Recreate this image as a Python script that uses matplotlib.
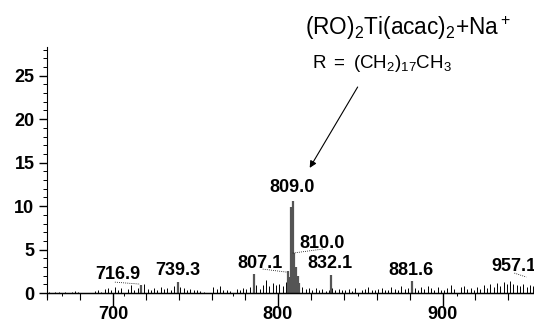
import numpy as np
import matplotlib.pyplot as plt
from matplotlib.ticker import MultipleLocator

plt.rcParams['font.family'] = ['Liberation Sans', 'DejaVu Sans']
plt.rcParams['mathtext.fontset'] = 'custom'
plt.rcParams['mathtext.rm'] = 'Liberation Sans'
plt.rcParams['mathtext.it'] = 'Liberation Sans'

# background noise of the spectrum, one stick every 2 m/z from 661
noise_start = 661
noise_step = 2
noise = [0.1, 0.0, 0.15, 0.1, -0.3, 0.1, 0.05, 0.1, 0.2, 0.1,
         0.0, 0.0, 0.0, 0.0, 0.2, 0.3, 0.1, 0.5, 0.6, 0.3,
         0.7, 0.4, 0.6, -0.3, 0.5, 0.9, 0.4, 0.6, 0.8, 1.0,
         0.5, 0.3, 0.6, 0.4, 0.7, 0.5, 0.6, 0.4, 0.8, 0.6,
         0.7, 0.6, 0.4, 0.5, 0.3, 0.4, 0.2, 0.1, 0.0, 0.0,
         0.7, 0.5, 0.8, 0.3, 0.4, 0.2, -0.3, 0.5, 0.4, 0.6,
         0.5, 0.7, 0.6, 0.9, 0.5, 0.9, 1.5, 0.8, 1.2, 0.9,
         1.0, 0.8, 1.3, 1.6, 1.0, 1.5, 0.9, 0.7, 0.5, 0.6,
         0.4, 0.6, 0.3, 0.5, 0.2, 0.4, 0.6, 0.3, 0.5, 0.4,
         0.3, 0.5, 0.2, 0.6, -0.3, 0.3, 0.5, 0.7, 0.3, 0.4,
         0.5, 0.6, 0.4, 0.3, 0.7, 0.5, 0.4, 0.8, 0.5, 0.6,
         0.5, 0.6, 0.4, 0.7, 0.5, 0.8, 0.6, 0.4, 0.7, 0.3,
         0.4, 0.6, 0.9, 0.5, -0.3, 0.7, 0.8, 0.5, 0.6, 0.4,
         0.7, 0.5, 0.9, 0.6, 1.0, 0.7, 1.2, 0.8, 1.3, 1.0,
         1.4, 1.1, 0.9, 0.8, 1.0, 0.7, 0.9, 0.8]

# main peaks
peak_mz = [716.9, 739.3, 785.5, 806.0, 807.1, 808.0, 809.0, 810.0, 811.0, 812.0, 813.0, 832.1, 881.6, 957.1]
peak_int = [0.9, 1.3, 2.2, 2.5, 1.8, 9.9, 10.6, 4.6, 3.0, 2.0, 1.2, 2.1, 1.4, 1.5]

# labelled peaks: text, label position (m/z, intensity)
labels = ['716.9', '739.3', '807.1', '809.0', '810.0', '832.1', '881.6', '957.1']
label_x = [703.0, 739.4, 789.0, 809.0, 826.7, 831.5, 881.0, 929.7]
label_y = [2.1, 2.6, 3.4, 12.1, 5.7, 3.4, 2.6, 3.1]
label_ha = ['center', 'center', 'center', 'center', 'center', 'center', 'center', 'left']

# dotted leader lines from label to peak
leaders = [((701.2, 1.26), (716.4, 1.03)),
           ((790.9, 2.76), (805.5, 2.41)),
           ((809.1, 4.6), (827.3, 5.06)),
           ((943.6, 2.3), (950.9, 1.84))]

noise_mz = noise_start + noise_step * np.arange(len(noise))

fig = plt.figure(figsize=(5.34, 3.22), dpi=100)
ax = fig.add_axes([0.088, 0.079, 0.912, 0.775])

ax.vlines(noise_mz, 0, noise, color='black', lw=0.7)
ax.vlines(peak_mz, 0, peak_int, color='#555555', lw=1.6)
ax.axhline(0, color='black', lw=1.0)

for t, x, y, ha in zip(labels, label_x, label_y, label_ha):
    ax.text(x, y, t, ha=ha, va='center', fontsize=13, fontweight='bold')

for (x0, y0), (x1, y1) in leaders:
    ax.plot([x0, x1], [y0, y1], color='black', lw=0.6, ls=(0, (1, 1.5)))

ax.annotate('', xy=(819.4, 14.4), xytext=(848.5, 23.7),
            arrowprops=dict(arrowstyle='-|>', color='black', lw=0.8,
                            mutation_scale=10, shrinkA=0, shrinkB=0))

fig.text(305 / 534, 1 - 28 / 322, r'$\mathrm{(RO)_2Ti(acac)_2{+}Na^+}$', fontsize=16.3,
         ha='left', va='center')
fig.text(312 / 534, 1 - 64 / 322, r'$\mathrm{R\ =\ (CH_2)_{17}CH_3}$', fontsize=13.5,
         ha='left', va='center')

ax.set_xlim(660, 955.5)
ax.set_ylim(-0.4, 28.3)

ax.spines['top'].set_visible(False)
ax.spines['right'].set_visible(False)
ax.spines['bottom'].set_position(('data', 0))

ax.xaxis.set_major_locator(MultipleLocator(100))
ax.xaxis.set_minor_locator(MultipleLocator(20))
ax.yaxis.set_minor_locator(MultipleLocator(1))
ax.set_yticks([0, 5, 10, 15, 20, 25])

ax.tick_params(axis='x', which='major', length=9, width=1, pad=0.5, labelsize=13)
ax.tick_params(axis='x', which='minor', length=5, width=0.8)
ax.tick_params(axis='y', which='major', length=6, width=1, pad=3, labelsize=13)
ax.tick_params(axis='y', which='minor', length=3, width=0.7)
for lab in ax.get_xticklabels() + ax.get_yticklabels():
    lab.set_fontweight('bold')

fig.savefig('out.png', dpi=100)
